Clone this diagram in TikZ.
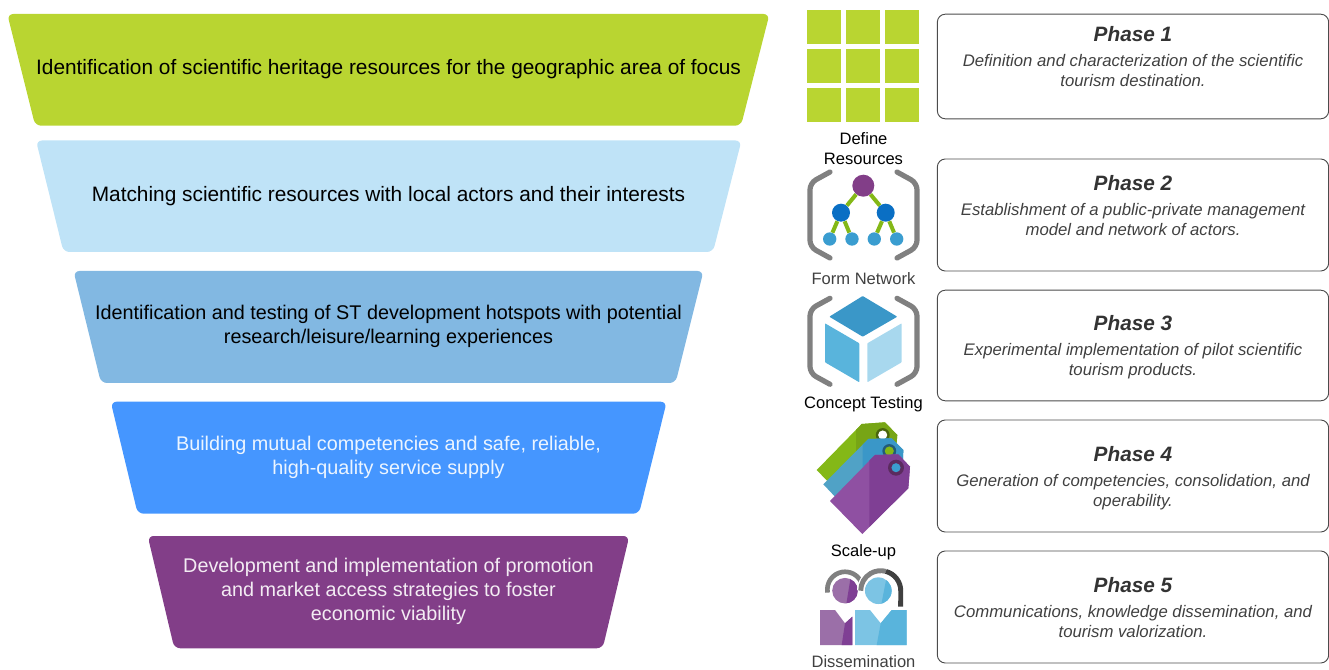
\documentclass[tikz,border=0pt]{standalone}
\usepackage{fontspec}
\setmainfont{Liberation Sans}
\definecolor{limeFill}{HTML}{B9D531}
\definecolor{paleFill}{HTML}{BFE3F7}
\definecolor{steelFill}{HTML}{82B8E2}
\definecolor{brightFill}{HTML}{4596FF}
\definecolor{plumFill}{HTML}{823E88}
\definecolor{edgeGreen}{HTML}{84B817}
\definecolor{dotBlue}{HTML}{0A6FC4}
\definecolor{dotCyan}{HTML}{3A9DD0}
\definecolor{tealTop}{HTML}{3A97C8}
\definecolor{tealLeft}{HTML}{59B4DC}
\definecolor{tealRight}{HTML}{A8D8EE}
\definecolor{tagLight}{HTML}{8F50A2}
\definecolor{tagDark}{HTML}{7F3F94}
\definecolor{bodyPlum}{HTML}{9B6FA8}
\definecolor{bodySky}{HTML}{7CC4E4}
\tikzset{
    funnel/.style={rounded corners=4.5pt},
    stagetext/.style={inner sep=0pt, align=center, font=\fontsize{14.85}{18}\selectfont},
    phasebox/.style={draw=black!70, rounded corners=6pt, line width=0.7pt, minimum width=293.5pt, inner sep=0pt},
    phasetitle/.style={font=\fontsize{15.6}{18}\selectfont\bfseries\itshape, text=black!80},
    phasetext/.style={font=\fontsize{12.55}{15}\selectfont\itshape, text=black!75, align=center},
    iconlabel/.style={font=\fontsize{12.4}{15}\selectfont, align=center},
    treeedge/.style={edgeGreen, line width=3pt},
    bracket/.style={black!50, line width=3.9pt, line cap=round, rounded corners=5pt},
}
\begin{document}
\begin{tikzpicture}[x=0.75pt,y=-0.75pt]
    \newcommand{\bracketPair}[1]{
        \draw[bracket] (830,#1) -- (810,#1+11) -- (810,#1+75) -- (830,#1+86);
        \draw[bracket] (897,#1) -- (917,#1+11) -- (917,#1+75) -- (897,#1+86);
    }
    \useasboundingbox (0,0) rectangle (1329,670);

    % funnel
    \fill[funnel, limeFill] (7.3,14) -- (769.5,14) -- (741,125.7) -- (35.2,125.7) -- cycle;
    \fill[funnel, paleFill] (36,140.5) -- (741.5,140.5) -- (713,252) -- (63.5,252) -- cycle;
    \fill[funnel, steelFill] (73.5,271) -- (703.5,271) -- (675.5,383) -- (101,383) -- cycle;
    \fill[funnel, brightFill] (110.7,401.7) -- (666.7,401.7) -- (639,513.7) -- (137.7,513.7) -- cycle;
    \fill[funnel, plumFill] (147.7,536) -- (629.3,536) -- (602.7,648.3) -- (174.3,648.3) -- cycle;
    \node[stagetext, font=\fontsize{15.64}{18}\selectfont] (stageA) at (388.5,69)
        {Identification of scientific heritage resources for the geographic area of focus};
    \node[stagetext, font=\fontsize{15.64}{18}\selectfont] (stageB) at (388.5,196)
        {Matching scientific resources with local actors and their interests};
    \node[stagetext] (stageC) at (388.5,326)
        {Identification and testing of ST development hotspots with potential\\research/leisure/learning experiences};
    \node[stagetext, text=white!90!brightFill] (stageD) at (388.5,457)
        {Building mutual competencies and safe, reliable,\\high-quality service supply};
    \node[stagetext, text=white!90!plumFill] (stageE) at (388.5,591)
        {Development and implementation of promotion\\and market access strategies to foster\\economic viability};

    % phase boxes
    \node[phasebox, minimum height=78.5pt] (boxA) at (1133,66.5) {};
    \node[phasebox, minimum height=84pt] (boxB) at (1133,215) {};
    \node[phasebox, minimum height=83pt] (boxC) at (1133,345.5) {};
    \node[phasebox, minimum height=84pt] (boxD) at (1133,476) {};
    \node[phasebox, minimum height=84pt] (boxE) at (1133,607) {};

    \node[phasetitle] (titleA) at (1133,34) {Phase 1};
    \node[phasetext] (textA) at (1133,71) {Definition and characterization of the scientific\\tourism destination.};
    \node[phasetitle] (titleB) at (1133,183) {Phase 2};
    \node[phasetext] (textB) at (1133,220) {Establishment of a public-private management\\model and network of actors.};
    \node[phasetitle] (titleC) at (1133,323) {Phase 3};
    \node[phasetext] (textC) at (1133,361) {Experimental implementation of pilot scientific\\tourism products.};
    \node[phasetitle] (titleD) at (1133,454) {Phase 4};
    \node[phasetext] (textD) at (1133,492) {Generation of competencies, consolidation, and\\operability.};
    \node[phasetitle] (titleE) at (1133,585) {Phase 5};
    \node[phasetext] (textE) at (1133,622) {Communications, knowledge dissemination, and\\tourism valorization.};

    % grid icon
    \foreach \x in {807.3,846.3,885.3}
        \foreach \y in {10,49,88.3}
            \fill[limeFill] (\x,\y) rectangle ++(33.7,33.7);
    \node[iconlabel] (labelA) at (863.5,149) {Define\\Resources};

    % network icon
    \bracketPair{172}
    \node[circle, fill=plumFill, minimum size=16.5pt, inner sep=0pt] (root) at (863.3,185.7) {};
    \node[circle, fill=dotBlue, minimum size=13.5pt, inner sep=0pt] (midL) at (841,212.7) {};
    \node[circle, fill=dotBlue, minimum size=13.5pt, inner sep=0pt] (midR) at (885.7,212.7) {};
    \node[circle, fill=dotCyan, minimum size=10pt, inner sep=0pt] (leafA) at (829.7,239) {};
    \node[circle, fill=dotCyan, minimum size=10pt, inner sep=0pt] (leafB) at (852,239) {};
    \node[circle, fill=dotCyan, minimum size=10pt, inner sep=0pt] (leafC) at (874.3,239) {};
    \node[circle, fill=dotCyan, minimum size=10pt, inner sep=0pt] (leafD) at (896.7,239) {};
    \draw[treeedge] (root) -- (midL);
    \draw[treeedge] (root) -- (midR);
    \draw[treeedge] (midL) -- (leafA);
    \draw[treeedge] (midL) -- (leafB);
    \draw[treeedge] (midR) -- (leafC);
    \draw[treeedge] (midR) -- (leafD);
    \node[iconlabel, text=black!75] (labelB) at (863.5,279) {Form Network};

    % cube icon
    \bracketPair{298.3}
    \fill[tealTop, rounded corners=0.5pt] (862.7,296) -- (897.3,316.7) -- (862.7,336.7) -- (829.3,316.7) -- cycle;
    \fill[tealLeft, rounded corners=0.5pt] (825,323.3) -- (859.3,343.3) -- (859.3,382.3) -- (825,362.3) -- cycle;
    \fill[tealRight, rounded corners=0.5pt] (867.3,343.3) -- (901.7,323.3) -- (901.7,362.3) -- (867.3,382.3) -- cycle;
    \node[iconlabel] (labelC) at (863.5,404) {Concept Testing};

    % tag icon
    \fill[edgeGreen] (816.7,470) -- (861.7,424) -- (885,422.3) -- (897.3,435) -- (896,450) -- (833,487) -- cycle;
    \fill[edgeGreen!90!black] (856,430) -- (861.7,424) -- (885,422.3) -- (897.3,435) -- (896,450) -- (856,474) -- cycle;
    \fill[edgeGreen!55!black] (882.7,435) circle (5.2pt);
    \fill[white] (882.7,435) circle (3.4pt);
    \fill[tealLeft!90!black] (823.3,484.3) -- (868.3,439) -- (891.7,438.3) -- (903.3,450) -- (903,465) -- (835,496.7) -- cycle;
    \fill[tealTop] (862.7,444.7) -- (868.3,439) -- (891.7,438.3) -- (903.3,450) -- (903,465) -- (862.7,484) -- cycle;
    \fill[tealTop!60!black] (889.3,451) circle (5.2pt);
    \fill[edgeGreen] (889.3,451) circle (3.4pt);
    \fill[tagLight] (830,501) -- (875,455) -- (898.3,454.3) -- (910,466.7) -- (908.3,488.3) -- (862.3,534) -- cycle;
    \fill[tagDark] (869.3,460.6) -- (875,455) -- (898.3,454.3) -- (910,466.7) -- (908.3,488.3) -- (869.3,527) -- cycle;
    \fill[plumFill!70!black] (896,467.7) circle (6pt);
    \fill[dotCyan] (896,467.7) circle (3.4pt);
    \node[iconlabel] (labelD) at (863.5,552) {Scale-up};

    % people icon
    \draw[black!50, line width=3.5pt] (827.6,592.6) arc[start angle=190, end angle=25, radius=13.3pt];
    \begin{scope}
        \clip (845,590.7) circle (9.6pt);
        \fill[bodyPlum] (830,575) rectangle (862,606);
        \fill[tagDark] (851,575) -- (862,575) -- (862,606) -- (846,606) -- cycle;
    \end{scope}
    \begin{scope}
        \clip (878.3,590.7) circle (10pt);
        \fill[bodySky] (860,575) rectangle (897,606);
        \fill[tealLeft] (887,575) -- (897,575) -- (897,606) -- (881,606) -- cycle;
    \end{scope}
    \draw[white, line width=5.5pt] (860.7,590.7) arc[start angle=180, end angle=110, radius=15pt];
    \draw[black!50, line width=3.7pt] (860.7,590.7) arc[start angle=180, end angle=75, radius=15pt];
    \draw[black!75, line width=3.7pt] (885.9,571.4) arc[start angle=75, end angle=0, radius=15pt] -- (900.7,606.7);
    \fill[bodyPlum] (820,610) -- (835,610) -- (845,623.3) -- (852.3,616.7) -- (852.3,645) -- (820,645) -- cycle;
    \fill[tagDark] (845,623.3) -- (852.3,616.7) -- (852.3,645) -- (841.7,645) -- cycle;
    \fill[bodySky] (855,610) -- (870,610) -- (880.7,623.3) -- (891.7,610) -- (906.7,610) -- (906.7,645) -- (855,645) -- cycle;
    \fill[tealLeft] (880.7,623.3) -- (891.7,610) -- (906.7,610) -- (906.7,645) -- (876.7,645) -- cycle;
    \node[iconlabel, text=black!75] (labelE) at (863.5,662) {Dissemination};
\end{tikzpicture}
\end{document}
